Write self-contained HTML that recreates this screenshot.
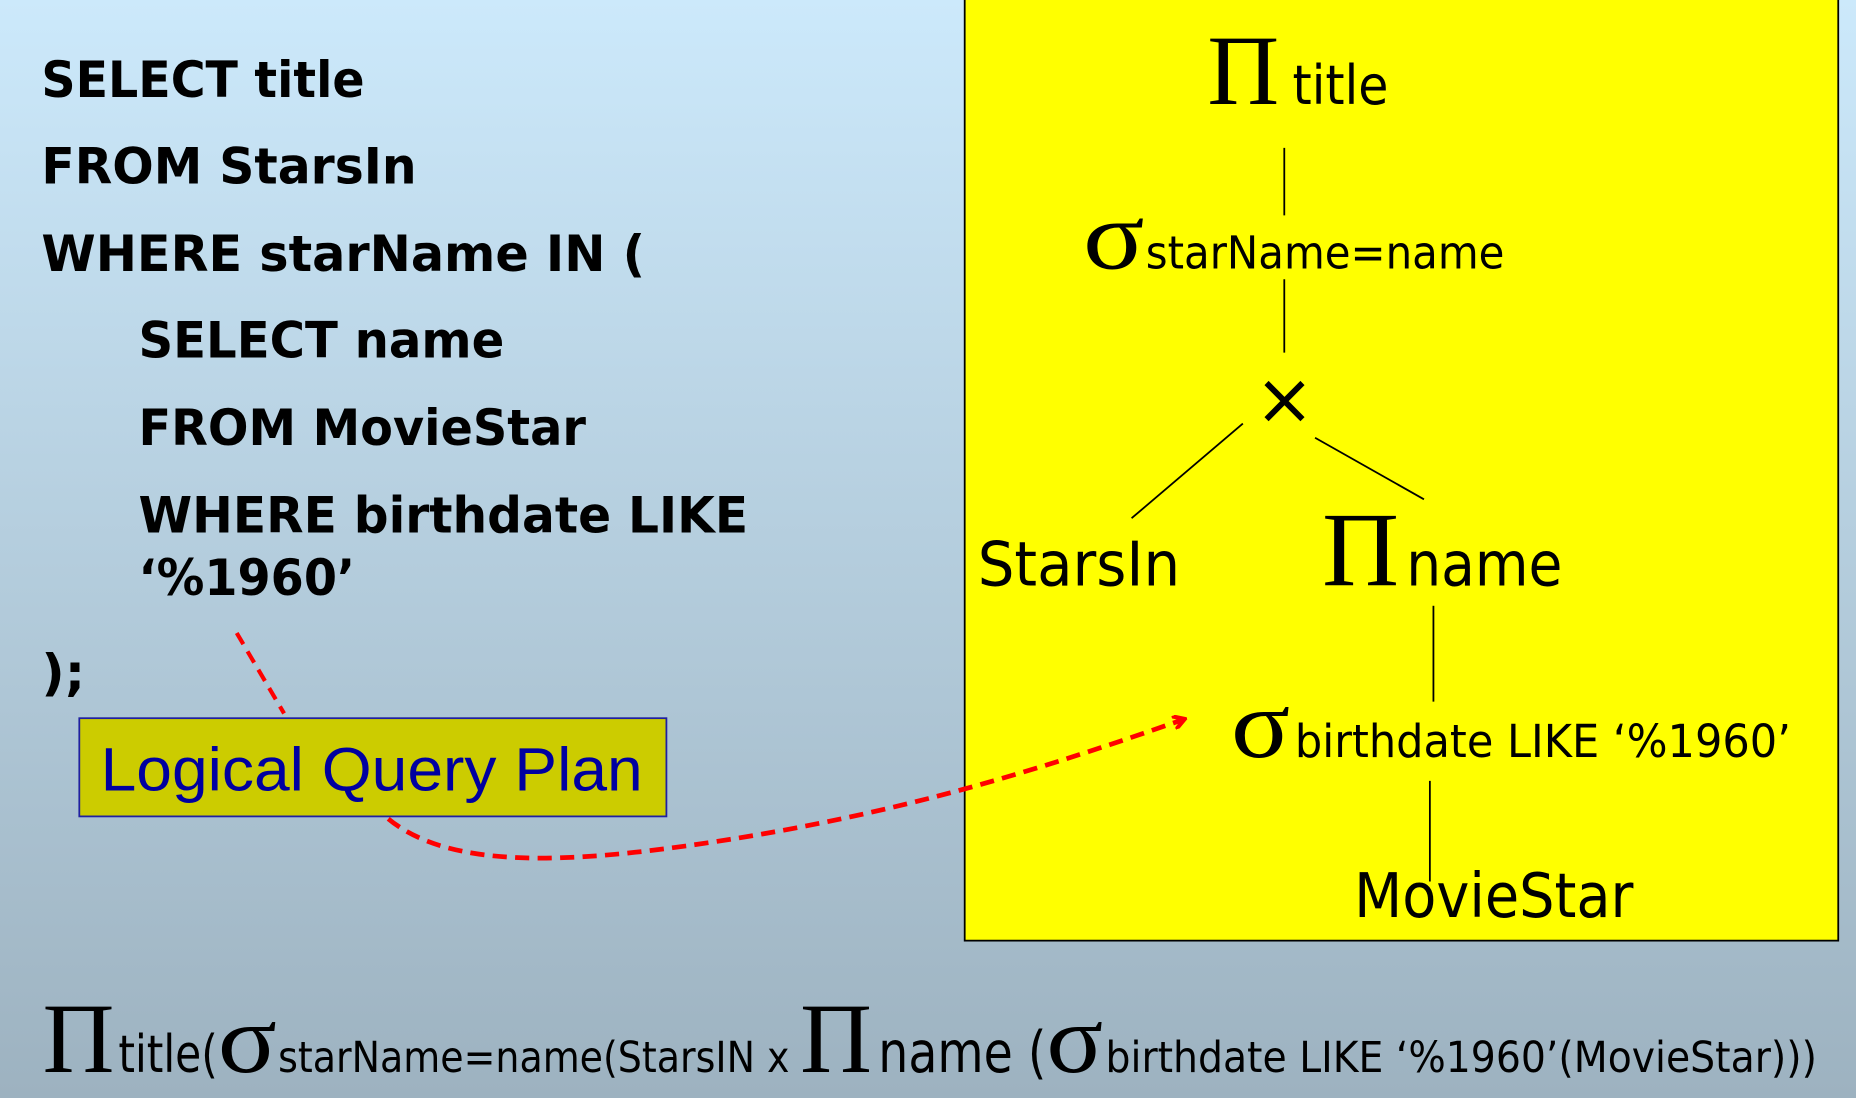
<!DOCTYPE html>
<html><head><meta charset="utf-8"><style>html,body{margin:0;padding:0;overflow:hidden}svg{display:block}</style></head>
<body>
<svg width="1856" height="1098" viewBox="0 0 1568 928" preserveAspectRatio="none" xmlns="http://www.w3.org/2000/svg">
<defs>
<linearGradient id="bg" x1="0" y1="0" x2="0" y2="1">
<stop offset="0" stop-color="#cce9fb"/><stop offset="1" stop-color="#9db2c0"/>
</linearGradient>
<marker id="ah" markerWidth="12" markerHeight="12" refX="9" refY="6" orient="auto" markerUnits="userSpaceOnUse">
<path d="M0,0 L10,6 L0,12" fill="none" stroke="#ff0000" stroke-width="3.5"/>
</marker>
</defs>
<rect width="1568" height="928" fill="url(#bg)"/>
<rect x="815" y="-2" width="738" height="797" fill="#ffff00" stroke="#000" stroke-width="1.5"/>

<g font-family="DejaVu Sans, sans-serif" font-weight="bold" font-size="42" fill="#000">
<text x="35" y="82" textLength="273" lengthAdjust="spacingAndGlyphs">SELECT title</text>
<text x="35" y="155" textLength="317" lengthAdjust="spacingAndGlyphs">FROM StarsIn</text>
<text x="35" y="229" textLength="510" lengthAdjust="spacingAndGlyphs">WHERE starName IN (</text>
<text x="117" y="302" textLength="309" lengthAdjust="spacingAndGlyphs">SELECT name</text>
<text x="117" y="376" textLength="378" lengthAdjust="spacingAndGlyphs">FROM MovieStar</text>
<text x="117" y="450" textLength="515" lengthAdjust="spacingAndGlyphs">WHERE birthdate LIKE</text>
<text x="117" y="503" textLength="183" lengthAdjust="spacingAndGlyphs">‘%1960’</text>
<text x="35" y="583" textLength="37" lengthAdjust="spacingAndGlyphs">);</text>
</g>

<rect x="67" y="607" width="496" height="83" fill="#cccc00" stroke="#2020a0" stroke-width="1.5"/>
<text x="85" y="668" font-family="Liberation Sans, sans-serif" font-size="52" fill="#0000a0" textLength="458" lengthAdjust="spacingAndGlyphs">Logical Query Plan</text>

<path d="M200,535 L240,603" stroke="#ff0000" stroke-width="3.5" stroke-dasharray="11,7" fill="none"/>
<path d="M328,692 C380,735 480,730 600,712 C760,688 880,650 1000,608" stroke="#ff0000" stroke-width="4" stroke-dasharray="12,7" fill="none" marker-end="url(#ah)"/>

<g fill="#000">
<text x="1020" y="88" font-family="Liberation Serif, serif" font-size="84">Π</text>
<text x="1092" y="88" font-family="DejaVu Sans, sans-serif" font-size="46" textLength="81" lengthAdjust="spacingAndGlyphs">title</text>
<text x="915" y="227" font-family="Liberation Serif, serif" font-size="82" textLength="52" lengthAdjust="spacingAndGlyphs">σ</text>
<text x="968" y="227" font-family="DejaVu Sans, sans-serif" font-size="38" textLength="303" lengthAdjust="spacingAndGlyphs">starName=name</text>
<text x="1060" y="358" font-family="DejaVu Sans, sans-serif" font-size="60">×</text>
<text x="826" y="495" font-family="DejaVu Sans, sans-serif" font-size="52" textLength="171" lengthAdjust="spacingAndGlyphs">StarsIn</text>
<text x="1117" y="495" font-family="Liberation Serif, serif" font-size="90">Π</text>
<text x="1188" y="495" font-family="DejaVu Sans, sans-serif" font-size="52" textLength="132" lengthAdjust="spacingAndGlyphs">name</text>
<text x="1040" y="640" font-family="Liberation Serif, serif" font-size="82" textLength="50" lengthAdjust="spacingAndGlyphs">σ</text>
<text x="1094" y="640" font-family="DejaVu Sans, sans-serif" font-size="38" textLength="419" lengthAdjust="spacingAndGlyphs">birthdate LIKE ‘%1960’</text>
<text x="1144" y="775" font-family="DejaVu Sans, sans-serif" font-size="52" textLength="236" lengthAdjust="spacingAndGlyphs">MovieStar</text>
</g>
<g stroke="#000" stroke-width="1.5">
<line x1="1085" y1="125" x2="1085" y2="182"/>
<line x1="1085" y1="236" x2="1085" y2="298"/>
<line x1="1050" y1="358" x2="956" y2="438"/>
<line x1="1111" y1="370" x2="1203" y2="422"/>
<line x1="1211" y1="512" x2="1211" y2="593"/>
<line x1="1208" y1="660" x2="1208" y2="745"/>
</g>

<g fill="#000">
<text x="36" y="906" font-family="Liberation Serif, serif" font-size="84">Π</text>
<text x="100" y="906" font-family="DejaVu Sans, sans-serif" font-size="44" textLength="84" lengthAdjust="spacingAndGlyphs">title(</text>
<text x="184" y="906" font-family="Liberation Serif, serif" font-size="82" textLength="50" lengthAdjust="spacingAndGlyphs">σ</text>
<text x="235" y="906" font-family="DejaVu Sans, sans-serif" font-size="36" textLength="432" lengthAdjust="spacingAndGlyphs">starName=name(StarsIN x</text>
<text x="676" y="906" font-family="Liberation Serif, serif" font-size="84">Π</text>
<text x="742" y="906" font-family="DejaVu Sans, sans-serif" font-size="48" textLength="142" lengthAdjust="spacingAndGlyphs">name (</text>
<text x="884" y="906" font-family="Liberation Serif, serif" font-size="82" textLength="48" lengthAdjust="spacingAndGlyphs">σ</text>
<text x="934" y="906" font-family="DejaVu Sans, sans-serif" font-size="36" textLength="601" lengthAdjust="spacingAndGlyphs">birthdate LIKE ‘%1960’(MovieStar)))</text>
</g>
</svg>
</body></html>
